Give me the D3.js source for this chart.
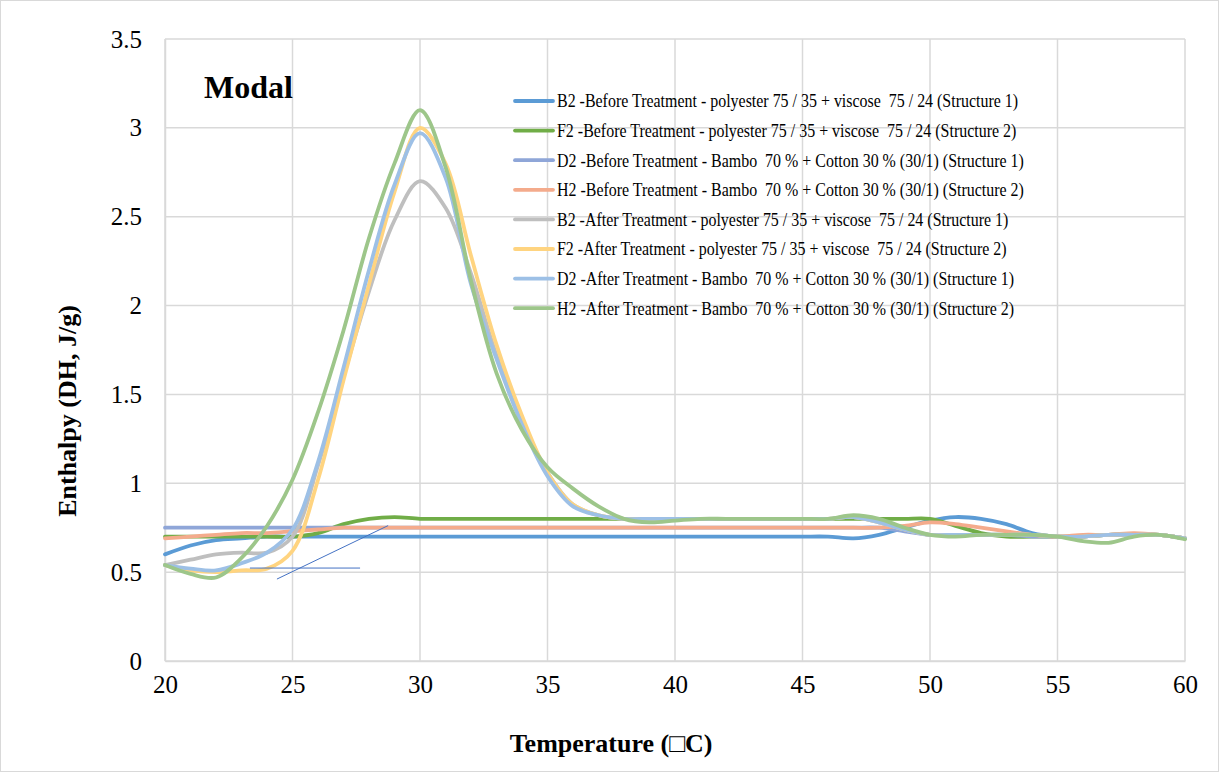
<!DOCTYPE html>
<html>
<head>
<meta charset="utf-8">
<script src="https://cdn.jsdelivr.net/npm/d3@7"></script>
<style>
  body { margin: 0; background: #fff; }
  svg text { font-family: "Liberation Serif", "Times New Roman", serif; }
</style>
</head>
<body>
<svg id="chart" width="1219" height="772"></svg>
<script>
// temperatures (°C), shared by all series
const temps = [20, 21, 22, 23, 24, 25, 26, 27, 28, 29, 30, 31, 32, 33, 34, 35, 36, 37, 38, 39, 40,
               41, 42, 43, 44, 45, 46, 47, 48, 49, 50, 51, 52, 53, 54, 55, 56, 57, 58, 59, 60];

// enthalpy values, one per temperature
const b2Before = [0.60, 0.65, 0.68, 0.69, 0.70, 0.70, 0.70, 0.70, 0.70, 0.70,
                  0.70, 0.70, 0.70, 0.70, 0.70, 0.70, 0.70, 0.70, 0.70, 0.70,
                  0.70, 0.70, 0.70, 0.70, 0.70, 0.70, 0.70, 0.69, 0.71, 0.75,
                  0.79, 0.81, 0.80, 0.77, 0.72, 0.70, 0.70, 0.71, 0.71, 0.71, 0.69];
const f2Before = [0.70, 0.70, 0.70, 0.70, 0.70, 0.70, 0.72, 0.77, 0.80, 0.81,
                  0.80, 0.80, 0.80, 0.80, 0.80, 0.80, 0.80, 0.80, 0.80, 0.80,
                  0.80, 0.80, 0.80, 0.80, 0.80, 0.80, 0.80, 0.80, 0.80, 0.80,
                  0.80, 0.76, 0.72, 0.70, 0.70, 0.70, 0.70, 0.71, 0.71, 0.71, 0.69];
const d2Before = [0.75, 0.75, 0.75, 0.75, 0.75, 0.75, 0.75, 0.75, 0.75, 0.75,
                  0.75, 0.75, 0.75, 0.75, 0.75, 0.75, 0.75, 0.75, 0.75, 0.75,
                  0.75, 0.75, 0.75, 0.75, 0.75, 0.75, 0.75, 0.75, 0.75, 0.73,
                  0.71, 0.71, 0.71, 0.71, 0.70, 0.70, 0.70, 0.71, 0.71, 0.71, 0.69];
const h2Before = [0.69, 0.70, 0.71, 0.72, 0.72, 0.73, 0.74, 0.75, 0.75, 0.75,
                  0.75, 0.75, 0.75, 0.75, 0.75, 0.75, 0.75, 0.75, 0.75, 0.75,
                  0.75, 0.75, 0.75, 0.75, 0.75, 0.75, 0.75, 0.75, 0.75, 0.76,
                  0.78, 0.77, 0.75, 0.73, 0.71, 0.70, 0.71, 0.71, 0.72, 0.71, 0.69];
const b2After  = [0.54, 0.57, 0.60, 0.61, 0.61, 0.70, 1.10, 1.60, 2.08, 2.48,
                  2.70, 2.55, 2.18, 1.72, 1.36, 1.06, 0.88, 0.82, 0.80, 0.80,
                  0.80, 0.80, 0.80, 0.80, 0.80, 0.80, 0.80, 0.81, 0.78, 0.74,
                  0.71, 0.71, 0.71, 0.71, 0.71, 0.70, 0.70, 0.71, 0.71, 0.71, 0.69];
const f2After  = [0.54, 0.51, 0.50, 0.51, 0.52, 0.62, 1.02, 1.58, 2.12, 2.64,
                  3.00, 2.80, 2.28, 1.78, 1.38, 1.06, 0.88, 0.82, 0.80, 0.80,
                  0.80, 0.80, 0.80, 0.80, 0.80, 0.80, 0.80, 0.81, 0.78, 0.74,
                  0.71, 0.71, 0.71, 0.71, 0.71, 0.70, 0.70, 0.71, 0.71, 0.71, 0.69];
const d2After  = [0.54, 0.52, 0.51, 0.55, 0.61, 0.74, 1.12, 1.65, 2.20, 2.68,
                  2.97, 2.72, 2.12, 1.70, 1.33, 1.04, 0.87, 0.82, 0.80, 0.80,
                  0.80, 0.80, 0.80, 0.80, 0.80, 0.80, 0.80, 0.81, 0.78, 0.74,
                  0.71, 0.71, 0.71, 0.71, 0.71, 0.70, 0.70, 0.71, 0.71, 0.71, 0.69];
const h2After  = [0.54, 0.49, 0.47, 0.58, 0.76, 1.02, 1.40, 1.86, 2.38, 2.80,
                  3.10, 2.78, 2.14, 1.62, 1.30, 1.09, 0.97, 0.87, 0.80, 0.78,
                  0.79, 0.80, 0.80, 0.80, 0.80, 0.80, 0.80, 0.82, 0.80, 0.75,
                  0.71, 0.70, 0.71, 0.71, 0.71, 0.70, 0.675, 0.665, 0.70, 0.71, 0.685];

const seriesNames = [
  "B2 -Before Treatment - polyester 75 / 35 + viscose  75 / 24 (Structure 1)",
  "F2 -Before Treatment - polyester 75 / 35 + viscose  75 / 24 (Structure 2)",
  "D2 -Before Treatment - Bambo  70 % + Cotton 30 % (30/1) (Structure 1)",
  "H2 -Before Treatment - Bambo  70 % + Cotton 30 % (30/1) (Structure 2)",
  "B2 -After Treatment - polyester 75 / 35 + viscose  75 / 24 (Structure 1)",
  "F2 -After Treatment - polyester 75 / 35 + viscose  75 / 24 (Structure 2)",
  "D2 -After Treatment - Bambo  70 % + Cotton 30 % (30/1) (Structure 1)",
  "H2 -After Treatment - Bambo  70 % + Cotton 30 % (30/1) (Structure 2)"
];
const seriesValues = [b2Before, f2Before, d2Before, h2Before, b2After, f2After, d2After, h2After];
const seriesColors = ["#5b9bd5", "#70ad47", "#8fa6d8", "#f4ab8c", "#bfbfbf", "#ffd480", "#9dc0e6", "#9dc68a"];

const xTicks = [20, 25, 30, 35, 40, 45, 50, 55, 60];
const yTicks = [0, 0.5, 1, 1.5, 2, 2.5, 3, 3.5];

// the two thin tangent lines drawn on the chart
const tangentLines = [
  [[23.33, 0.523], [27.65, 0.523]],
  [[24.39, 0.461], [28.75, 0.762]]
];

const svg = d3.select("#chart");
const width = +svg.attr("width");
const height = +svg.attr("height");
const margin = { top: 39, right: 34, bottom: 111, left: 165 };

// outer chart border
svg.append("rect")
  .attr("x", 0.5).attr("y", 0.5)
  .attr("width", width - 1).attr("height", height - 1)
  .attr("fill", "#fff").attr("stroke", "#d9d9d9");

const x = d3.scaleLinear().domain([20, 60]).range([margin.left, width - margin.right]);
const y = d3.scaleLinear().domain([0, 3.5]).range([height - margin.bottom, margin.top]);

// gridlines
const grid = svg.append("g").attr("stroke", "#d9d9d9").attr("stroke-width", 1.5);
grid.selectAll(".gx").data(xTicks).enter().append("line")
  .attr("x1", d => x(d)).attr("x2", d => x(d))
  .attr("y1", y(0)).attr("y2", y(3.5));
grid.selectAll(".gy").data(yTicks).enter().append("line")
  .attr("x1", x(20)).attr("x2", x(60))
  .attr("y1", d => y(d)).attr("y2", d => y(d));

// axes (labels only, Excel style)
const xAxis = svg.append("g")
  .attr("transform", `translate(0,${y(0)})`)
  .call(d3.axisBottom(x).tickValues(xTicks).tickSize(0).tickPadding(14).tickFormat(d => d));
const yAxis = svg.append("g")
  .attr("transform", `translate(${x(20)},0)`)
  .call(d3.axisLeft(y).tickValues(yTicks).tickSize(0).tickPadding(23).tickFormat(d => String(d)));
[xAxis, yAxis].forEach(g => {
  g.select(".domain").attr("stroke", "#d9d9d9").attr("stroke-width", 1.5);
  g.selectAll("text")
    .attr("font-family", "Liberation Serif, Times New Roman, serif")
    .attr("font-size", 25).attr("fill", "#000");
});

// series lines
const line = d3.line()
  .x((d, i) => x(temps[i]))
  .y(d => y(d))
  .curve(d3.curveCatmullRom.alpha(0.5));

svg.append("g").selectAll("path")
  .data(seriesValues)
  .enter().append("path")
  .attr("d", d => line(d))
  .attr("fill", "none")
  .attr("stroke", (d, i) => seriesColors[i])
  .attr("stroke-width", 3.8)
  .attr("stroke-linecap", "round");

// tangent lines
svg.append("g").selectAll("line")
  .data(tangentLines)
  .enter().append("line")
  .attr("x1", d => x(d[0][0])).attr("y1", d => y(d[0][1]))
  .attr("x2", d => x(d[1][0])).attr("y2", d => y(d[1][1]))
  .attr("stroke", "#4472c4").attr("stroke-width", 1);

// legend (text slightly condensed like the original rendering)
const legendScaleX = 0.886;
const legend = svg.append("g").attr("transform", "translate(515,101)");
const rows = legend.selectAll("g").data(seriesNames).enter().append("g")
  .attr("transform", (d, i) => `translate(0,${i * 29.6})`);
rows.append("line")
  .attr("x1", 0).attr("x2", 38)
  .attr("stroke", (d, i) => seriesColors[i])
  .attr("stroke-width", 3.8).attr("stroke-linecap", "round");
rows.append("text")
  .attr("transform", `translate(42,0) scale(${legendScaleX},1)`)
  .attr("dy", "0.35em")
  .attr("font-size", 18)
  .style("white-space", "pre")
  .text(d => d);

// "Modal" label
svg.append("text")
  .attr("x", 204).attr("y", 98)
  .attr("font-size", 32).attr("font-weight", "bold")
  .text("Modal");

// axis titles
svg.append("text")
  .attr("x", 611).attr("y", 752)
  .attr("text-anchor", "middle")
  .attr("font-size", 26).attr("font-weight", "bold")
  .text("Temperature (\u25A1C)");
svg.append("text")
  .attr("transform", "translate(76,411) rotate(-90)")
  .attr("text-anchor", "middle")
  .attr("font-size", 26).attr("font-weight", "bold")
  .text("Enthalpy (DH, J/g)");
</script>
</body>
</html>
